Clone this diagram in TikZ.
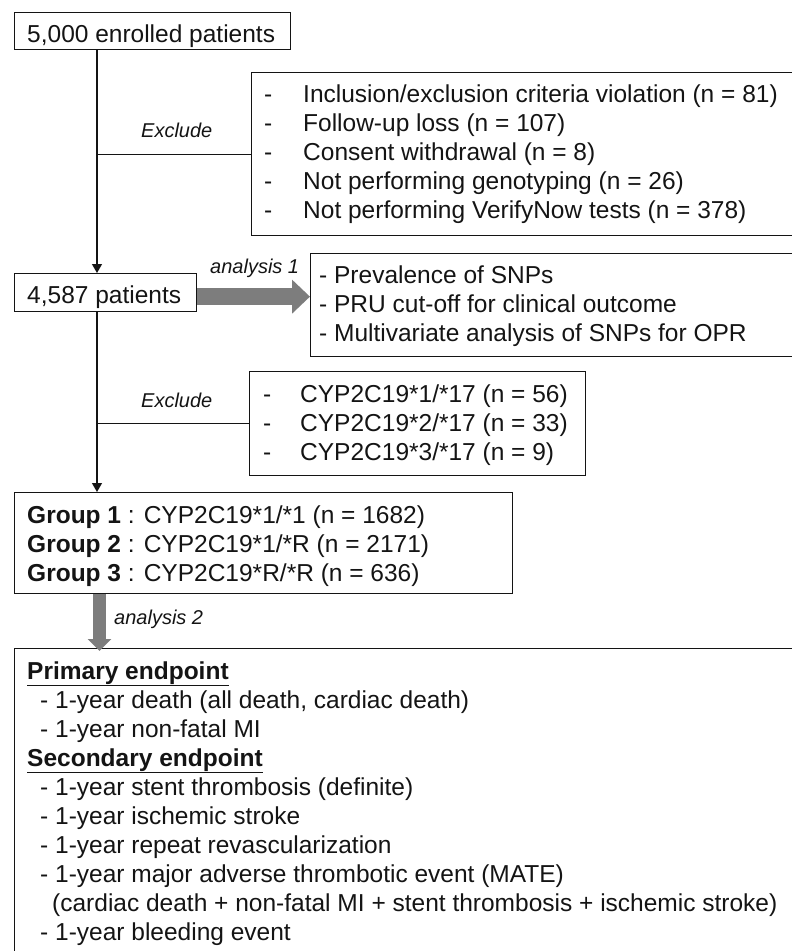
\documentclass[tikz,border=0pt]{standalone}
\usepackage{fontspec}
\setmainfont{Liberation Sans}
\usetikzlibrary{arrows.meta,calc}
\definecolor{garrow}{RGB}{125,125,125}
\definecolor{ink}{RGB}{20,20,20}
\begin{document}
\begin{tikzpicture}[x=1pt,y=-1pt,
  box/.style={draw=ink,line width=1.3pt,inner sep=0pt,fill=none},
  txt/.style={anchor=base west,inner sep=0pt,text=ink,font=\fontsize{24.5}{29}\selectfont},
  lbl/.style={anchor=base west,inner sep=0pt,text=ink,font=\fontsize{20}{24}\selectfont\itshape},
  conn/.style={draw=ink,line width=1.3pt},
  arr/.style={conn,-{Triangle[length=9pt,width=10pt]}},
  garr/.style={draw=garrow,-{Triangle[length=#1]}}
]
\useasboundingbox (0,0) rectangle (792,951);
\clip (0,0) rectangle (792,951);

% boxes
\node[box,anchor=north west,minimum width=276pt,minimum height=37pt] (b1) at (14,12) {};
\node[box,anchor=north west,minimum width=560pt,minimum height=163pt] (ex1) at (251,72) {};
\node[box,anchor=north west,minimum width=182pt,minimum height=38pt] (b2) at (14,273) {};
\node[box,anchor=north west,minimum width=500pt,minimum height=103pt] (an) at (310,253) {};
\node[box,anchor=north west,minimum width=336pt,minimum height=104pt] (ex2) at (249,371) {};
\node[box,anchor=north west,minimum width=498pt,minimum height=101pt] (grp) at (14,492) {};
\node[box,anchor=north west,minimum width=800pt,minimum height=330pt] (ep) at (14,648) {};

% texts
\node[txt] (t1) at (27,42) {5,000 enrolled patients};

\node[txt] (e1d1) at (264,102) {-};
\node[txt] (e1t1) at (303,102) {Inclusion/exclusion criteria violation (n = 81)};
\node[txt] (e1d2) at (264,131) {-};
\node[txt] (e1t2) at (303,131) {Follow-up loss (n = 107)};
\node[txt] (e1d3) at (264,160) {-};
\node[txt] (e1t3) at (303,160) {Consent withdrawal (n = 8)};
\node[txt] (e1d4) at (264,189) {-};
\node[txt] (e1t4) at (303,189) {Not performing genotyping (n = 26)};
\node[txt] (e1d5) at (264,218) {-};
\node[txt] (e1t5) at (303,218) {Not performing VerifyNow tests (n = 378)};

\node[txt] (t2) at (27,303) {4,587 patients};

\node[txt] (a1) at (319,283) {- Prevalence of SNPs};
\node[txt] (a2) at (319,312) {- PRU cut-off for clinical outcome};
\node[txt] (a3) at (319,341) {- Multivariate analysis of SNPs for OPR};

\node[txt] (e2d1) at (263,402) {-};
\node[txt] (e2t1) at (300,402) {CYP2C19*1/*17 (n = 56)};
\node[txt] (e2d2) at (263,431) {-};
\node[txt] (e2t2) at (300,431) {CYP2C19*2/*17 (n = 33)};
\node[txt] (e2d3) at (263,460) {-};
\node[txt] (e2t3) at (300,460) {CYP2C19*3/*17 (n = 9)};

\node[txt] (g1) at (27,523) {\textbf{Group 1} : CYP2C19*1/*1 (n = 1682)};
\node[txt] (g2) at (27,552) {\textbf{Group 2} : CYP2C19*1/*R (n = 2171)};
\node[txt] (g3) at (27,581) {\textbf{Group 3} : CYP2C19*R/*R (n = 636)};

\node[txt] (p0) at (27,679) {\textbf{\underline{Primary endpoint}}};
\node[txt] (p1) at (40,708) {- 1-year death (all death, cardiac death)};
\node[txt] (p2) at (40,737) {- 1-year non-fatal MI};
\node[txt] (s0) at (27,766) {\textbf{\underline{Secondary endpoint}}};
\node[txt] (s1) at (40,795) {- 1-year stent thrombosis (definite)};
\node[txt] (s2) at (40,824) {- 1-year ischemic stroke};
\node[txt] (s3) at (40,853) {- 1-year repeat revascularization};
\node[txt] (s4) at (40,882) {- 1-year major adverse thrombotic event (MATE)};
\node[txt] (s4b) at (52,911) {(cardiac death + non-fatal MI + stent thrombosis + ischemic stroke)};
\node[txt] (s5) at (40,940) {- 1-year bleeding event};

% labels
\node[lbl] (lx1) at (141,137) {Exclude};
\node[lbl] (lx2) at (141,407) {Exclude};
\node[lbl] (la1) at (210,273) {analysis 1};
\node[lbl] (la2) at (114,624) {analysis 2};

% connectors
\coordinate (v1) at ($(b1.south west)+(83,0)$);
\draw[arr] (v1) -- (v1 |- b2.north);
\draw[conn] (v1 |- ex1.west) -- (ex1.west);
\coordinate (v2) at (v1 |- b2.south);
\draw[arr] (v2) -- (v2 |- grp.north);
\draw[conn] (v2 |- ex2.west) -- (ex2.west);

\draw[draw=garrow,line width=17pt,-{Triangle[length=18pt,width=33pt]}]
  ([yshift=-4pt]b2.east) -- ([yshift=-4pt]b2.east -| an.west);
\coordinate (v3) at ($(grp.south west)+(85.5,0)$);
\draw[draw=garrow,line width=13pt,-{Triangle[length=12pt,width=23pt]},shorten >=-3pt]
  (v3) -- (v3 |- ep.north);
\end{tikzpicture}
\end{document}
